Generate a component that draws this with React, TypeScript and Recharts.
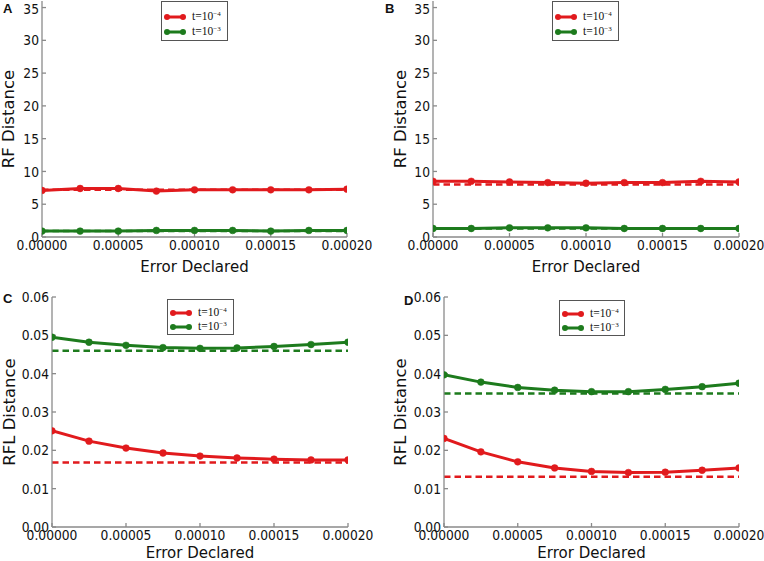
import React from 'react';
import { LineChart, Line, XAxis, YAxis, ReferenceLine, Legend } from 'recharts';

// ---------- data ----------
const errorDeclared = [0, 0.000025, 0.00005, 0.000075, 0.0001, 0.000125, 0.00015, 0.000175, 0.0002];
const xTicks = [0, 0.00005, 0.0001, 0.00015, 0.0002];
const rfTicks = [0, 5, 10, 15, 20, 25, 30, 35];
const rflTicks = [0, 0.01, 0.02, 0.03, 0.04, 0.05, 0.06];
const legendExponents = ['−4', '−3'];

// Panel A (RF distance)
const rfA_t4 = [7.1, 7.4, 7.4, 7.0, 7.2, 7.2, 7.2, 7.2, 7.3];
const rfA_t3 = [0.9, 0.9, 0.9, 1.0, 1.0, 1.0, 0.9, 1.0, 1.0];
const rfA_base = [7.2, 0.9];

// Panel B (RF distance)
const rfB_t4 = [8.5, 8.5, 8.4, 8.3, 8.2, 8.3, 8.3, 8.5, 8.4];
const rfB_t3 = [1.3, 1.3, 1.4, 1.4, 1.4, 1.3, 1.3, 1.3, 1.3];
const rfB_base = [8.0, 1.3];

// Panel C (RFL distance)
const rflC_t4 = [0.0251, 0.0224, 0.0206, 0.0193, 0.0185, 0.018, 0.0177, 0.0175, 0.0175];
const rflC_t3 = [0.0495, 0.0482, 0.0474, 0.0468, 0.0466, 0.0467, 0.0471, 0.0476, 0.0482];
const rflC_base = [0.0168, 0.046];

// Panel D (RFL distance)
const rflD_t4 = [0.0231, 0.0196, 0.017, 0.0154, 0.0145, 0.0142, 0.0143, 0.0148, 0.0154];
const rflD_t3 = [0.0397, 0.0378, 0.0364, 0.0357, 0.0353, 0.0353, 0.0359, 0.0366, 0.0375];
const rflD_base = [0.0131, 0.0348];

// ---------- styles ----------
const RED = '#e11a1d';
const GREEN = '#1d7b1d';
const FRAME = '#8a8a8a';
const SANS = '"DejaVu Sans", sans-serif';
const SERIF = '"Liberation Serif", "DejaVu Serif", serif';
const TICK_FONT = 12.3;
const TICK_STRETCH = 1.18;

type PanelProps = {
  letter: string;
  left: number;
  top: number;
  width: number;
  height: number;
  yw: number;
  mr: number;
  mt: number;
  xh: number;
  xlo: number;
  ylo: number;
  letterX: number;
  letterY: number;
  legend: { x: number; y: number; w: number; h: number };
  t4: number[];
  t3: number[];
  base: number[];
  yDomain: [number, number];
  yTicks: number[];
  yFmt: (v: number) => string;
  yLabel: string;
};

const XTick = (props: any) => {
  const { x, y, payload } = props;
  return (
    <text
      x={x}
      y={y}
      dy="0.71em"
      textAnchor="middle"
      fill="#111"
      fontSize={TICK_FONT}
      fontFamily={SANS}
      transform={`translate(0 ${y}) scale(1 ${TICK_STRETCH}) translate(0 ${-y})`}
    >
      {Number(payload.value).toFixed(5)}
    </text>
  );
};

const makeYTick = (fmt: (v: number) => string) => (props: any) => {
  const { x, y, payload } = props;
  return (
    <text
      x={x}
      y={y}
      dy="0.355em"
      textAnchor="end"
      fill="#111"
      fontSize={TICK_FONT}
      fontFamily={SANS}
      transform={`translate(0 ${y}) scale(1 ${TICK_STRETCH}) translate(0 ${-y})`}
    >
      {fmt(Number(payload.value))}
    </text>
  );
};

const LegendBox = ({ w, h }: { w: number; h: number }) => {
  const rows = [
    { color: RED, exp: legendExponents[0], cy: Math.round(h * 0.39) },
    { color: GREEN, exp: legendExponents[1], cy: Math.round(h * 0.765) },
  ];
  return (
    <div
      style={{
        width: w,
        height: h,
        boxSizing: 'border-box',
        border: '1px solid #555',
        background: '#fff',
        position: 'relative',
      }}
    >
      {rows.map((r, i) => (
        <div key={i}>
          <svg
            width={22}
            height={10}
            style={{ position: 'absolute', left: 2, top: r.cy - 5 - 1 }}
          >
            <line x1={3} y1={5} x2={19} y2={5} stroke={r.color} strokeWidth={3} />
            <circle cx={3} cy={5} r={3} fill={r.color} />
            <circle cx={19} cy={5} r={3} fill={r.color} />
          </svg>
          <span
            style={{
              position: 'absolute',
              left: 30,
              top: r.cy - 8,
              fontFamily: SERIF,
              fontSize: 11.5,
              lineHeight: '13px',
              color: '#111',
              whiteSpace: 'nowrap',
            }}
          >
            t=10
            <sup style={{ fontSize: 7, verticalAlign: 'top', position: 'relative', top: -2 }}>{r.exp}</sup>
          </span>
        </div>
      ))}
    </div>
  );
};

const Panel = (p: PanelProps) => {
  const data = errorDeclared.map((x, i) => ({ x, t4: p.t4[i], t3: p.t3[i] }));
  const labelStyle = { fill: '#111', fontSize: 15, fontFamily: SANS, textAnchor: 'middle' as const };
  const YTick = makeYTick(p.yFmt);
  return (
    <div style={{ position: 'absolute', left: p.left, top: p.top, width: p.width, height: p.height }}>
      <LineChart
        width={p.width}
        height={p.height}
        data={data}
        margin={{ top: p.mt, right: p.mr, left: 0, bottom: 0 }}
      >
        <XAxis
          xAxisId="b"
          dataKey="x"
          type="number"
          domain={[0, 0.0002]}
          ticks={xTicks}
          height={p.xh}
          tickSize={-4}
          tickMargin={7}
          stroke={FRAME}
          strokeWidth={1.3}
          tick={XTick}
          allowDataOverflow
          label={{ value: 'Error Declared', position: 'insideBottom', offset: p.xlo, style: labelStyle }}
        />
        <XAxis
          xAxisId="t"
          orientation="top"
          dataKey="x"
          type="number"
          domain={[0, 0.0002]}
          ticks={xTicks}
          height={0}
          tickSize={-4}
          stroke={FRAME}
          strokeWidth={1.3}
          tick={false}
          allowDataOverflow
        />
        <YAxis
          yAxisId="l"
          type="number"
          domain={p.yDomain}
          ticks={p.yTicks}
          width={p.yw}
          tickSize={-4}
          tickMargin={7}
          stroke={FRAME}
          strokeWidth={1.3}
          tick={YTick}
          allowDataOverflow
          label={{ value: p.yLabel, angle: -90, position: 'insideLeft', offset: p.ylo, style: { ...labelStyle, fontSize: 16.5 } }}
        />
        <YAxis
          yAxisId="r"
          orientation="right"
          type="number"
          domain={p.yDomain}
          ticks={p.yTicks}
          width={0}
          tickSize={-4}
          stroke={FRAME}
          strokeWidth={1.3}
          tick={false}
          allowDataOverflow
        />
        <ReferenceLine
          xAxisId="b"
          yAxisId="l"
          y={p.base[0]}
          stroke={RED}
          strokeWidth={2.5}
          strokeDasharray="6.5 4"
        />
        <ReferenceLine
          xAxisId="b"
          yAxisId="l"
          y={p.base[1]}
          stroke={GREEN}
          strokeWidth={2.5}
          strokeDasharray="6.5 4"
        />
        <Line
          xAxisId="b"
          yAxisId="l"
          dataKey="t4"
          name="t=10^-4"
          stroke={RED}
          strokeWidth={3}
          dot={{ r: 3.4, fill: RED, stroke: RED, strokeWidth: 0.5 }}
          isAnimationActive={false}
        />
        <Line
          xAxisId="b"
          yAxisId="l"
          dataKey="t3"
          name="t=10^-3"
          stroke={GREEN}
          strokeWidth={3}
          dot={{ r: 3.4, fill: GREEN, stroke: GREEN, strokeWidth: 0.5 }}
          isAnimationActive={false}
        />
        <Legend
          layout="horizontal"
          verticalAlign="middle"
          align="center"
          content={() => <LegendBox w={p.legend.w} h={p.legend.h} />}
          wrapperStyle={{ left: p.legend.x, top: p.legend.y, width: p.legend.w, height: p.legend.h }}
        />
      </LineChart>
      <div
        style={{
          position: 'absolute',
          left: p.letterX,
          top: p.letterY,
          fontFamily: '"Liberation Sans", Arial, sans-serif',
          fontWeight: 'bold',
          fontSize: 13,
          lineHeight: '13px',
          color: '#111',
        }}
      >
        {p.letter}
      </div>
    </div>
  );
};

const fmtRF = (v: number) => String(v);
const fmtRFL = (v: number) => v.toFixed(2);

export default function App() {
  return (
    <div style={{ position: 'absolute', left: 0, top: 0, width: 764, height: 561, background: '#fff' }}>
      <Panel
        letter="A" left={0} top={0} width={382} height={280}
        yw={42} mr={35} mt={1} xh={43} xlo={8} ylo={8.5}
        letterX={3} letterY={2}
        legend={{ x: 161, y: 1, w: 67, h: 40 }}
        t4={rfA_t4} t3={rfA_t3} base={rfA_base}
        yDomain={[0, 36]} yTicks={rfTicks} yFmt={fmtRF} yLabel="RF Distance"
      />
      <Panel
        letter="B" left={382} top={0} width={382} height={280}
        yw={51} mr={25} mt={1} xh={43} xlo={8} ylo={18}
        letterX={3} letterY={2}
        legend={{ x: 170, y: 1, w: 67, h: 40 }}
        t4={rfB_t4} t3={rfB_t3} base={rfB_base}
        yDomain={[0, 36]} yTicks={rfTicks} yFmt={fmtRF} yLabel="RF Distance"
      />
      <Panel
        letter="C" left={0} top={280} width={382} height={281}
        yw={52} mr={34} mt={17} xh={34} xlo={3.5} ylo={9.5}
        letterX={3} letterY={12}
        legend={{ x: 167, y: 19, w: 67, h: 36 }}
        t4={rflC_t4} t3={rflC_t3} base={rflC_base}
        yDomain={[0, 0.06]} yTicks={rflTicks} yFmt={fmtRFL} yLabel="RFL Distance"
      />
      <Panel
        letter="D" left={382} top={280} width={382} height={281}
        yw={62} mr={25} mt={17} xh={34} xlo={3.5} ylo={18}
        letterX={22} letterY={14}
        legend={{ x: 177, y: 20, w: 66, h: 36 }}
        t4={rflD_t4} t3={rflD_t3} base={rflD_base}
        yDomain={[0, 0.06]} yTicks={rflTicks} yFmt={fmtRFL} yLabel="RFL Distance"
      />
    </div>
  );
}
